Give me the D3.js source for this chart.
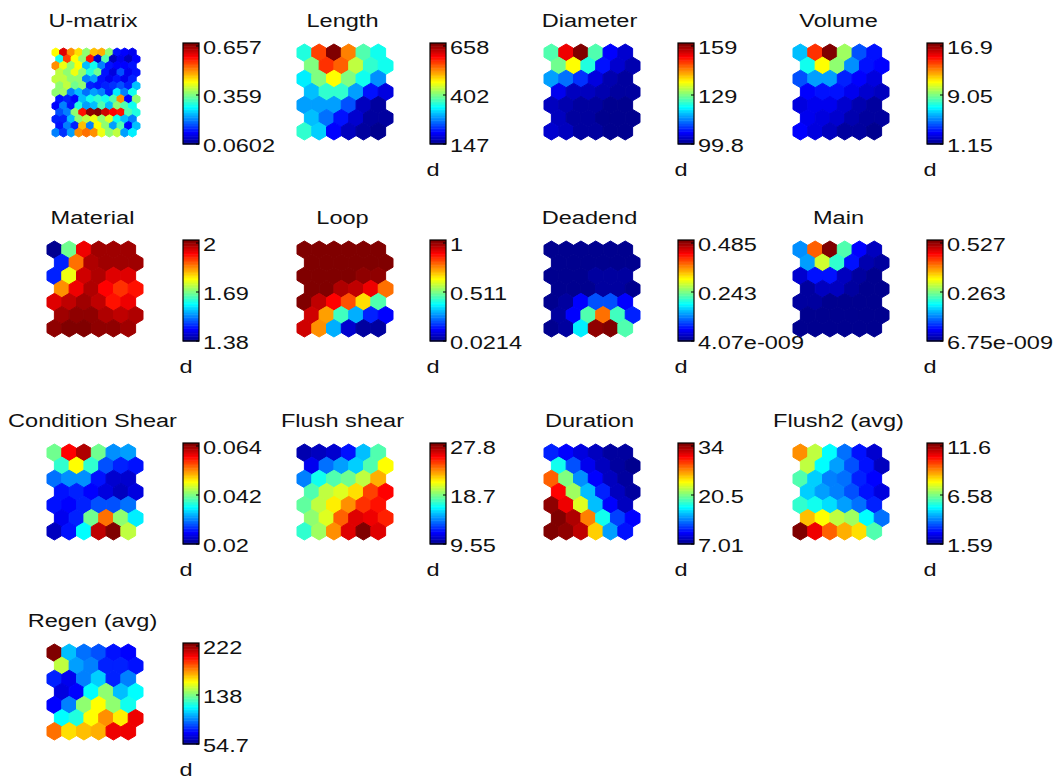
<!DOCTYPE html>
<html><head><meta charset="utf-8">
<script src="https://cdn.jsdelivr.net/npm/d3@7"></script>
<style>body{margin:0;background:#fff}text{font-family:"Liberation Sans",Arial,sans-serif;fill:#111}</style>
</head><body><svg id="c" width="1057" height="780"></svg>
<script>
// ---------- DATA ----------
const titles = ["U-matrix","Length","Diameter","Volume","Material","Loop","Deadend","Main","Condition Shear","Flush shear","Duration","Flush2 (avg)","Regen (avg)"];
const ranges = [[0.0602,0.657],[147,658],[99.8,159],[1.15,16.9],[1.38,2],[0.0214,1],[4.07e-9,0.485],[6.75e-9,0.527],[0.02,0.064],[9.55,27.8],[7.01,34],[1.59,11.6],[54.7,222]];
const tickLabels = [["0.0602","0.359","0.657"],["147","402","658"],["99.8","129","159"],["1.15","9.05","16.9"],["1.38","1.69","2"],["0.0214","0.511","1"],["4.07e-009","0.243","0.485"],["6.75e-009","0.263","0.527"],["0.02","0.042","0.064"],["9.55","18.7","27.8"],["7.01","20.5","34"],["1.59","6.58","11.6"],["54.7","138","222"]];
const unitLabel = "d";

const uMatrix = [
[0.430,0.597,0.490,0.448,0.359,0.466,0.478,0.359,0.138,0.132,0.120],
[0.287,0.538,0.430,0.359,0.568,0.102,0.329,0.090,0.120,0.090,0.132],
[0.490,0.418,0.359,0.430,0.239,0.287,0.209,0.138,0.132,0.132,0.138],
[0.389,0.359,0.418,0.359,0.299,0.347,0.138,0.108,0.180,0.120,0.138],
[0.389,0.394,0.359,0.359,0.209,0.221,0.138,0.120,0.138,0.120,0.150],
[0.359,0.389,0.341,0.359,0.150,0.138,0.150,0.162,0.180,0.150,0.239],
[0.359,0.371,0.209,0.239,0.192,0.227,0.209,0.150,0.269,0.209,0.287],
[0.144,0.150,0.132,0.239,0.287,0.311,0.287,0.329,0.490,0.132,0.359],
[0.132,0.209,0.144,0.299,0.221,0.239,0.329,0.239,0.359,0.329,0.287],
[0.180,0.209,0.359,0.568,0.639,0.657,0.609,0.579,0.568,0.329,0.299],
[0.150,0.150,0.239,0.359,0.389,0.418,0.359,0.406,0.287,0.239,0.209],
[0.138,0.209,0.150,0.466,0.209,0.430,0.359,0.227,0.329,0.132,0.239],
[0.209,0.162,0.227,0.490,0.508,0.490,0.418,0.359,0.389,0.227,0.269]];

const lengthV = [
[351,556,658,530,377,341],[402,566,540,428,362,341],[326,402,464,402,341,275],
[300,362,362,290,213,188],[285,290,290,249,173,162],[300,259,213,183,162,157],[362,311,208,173,157,147]];
const diameterV = [
[126.4,151.9,159,126.4,106.9,104.0],[127.6,136.5,123.5,107.5,104.0,102.2],[115.8,112.8,109.9,104.5,102.2,101.6],
[105.7,103.4,102.8,102.2,101.6,101.0],[103.4,102.2,101.0,101.0,100.4,100.4],[102.8,101.6,101.0,100.4,99.8,99.8],[104.0,102.8,101.6,101.0,100.4,99.8]];
const volumeV = [
[5.88,14.07,16.9,9.34,4.30,3.20],[7.14,10.92,9.03,5.09,3.20,3.04],[4.30,5.56,5.56,3.51,3.04,2.41],
[3.04,3.36,3.20,2.73,2.25,1.94],[2.41,2.73,2.73,2.25,1.78,1.62],[2.73,2.41,2.25,1.78,1.62,1.47],[3.04,2.41,1.94,1.62,1.47,1.31]];
const materialV = [
[1.38,1.68,1.93,1.98,1.98,1.98],[1.47,1.85,1.97,1.975,1.975,1.975],[1.47,1.75,1.95,1.97,1.94,1.94],
[1.83,1.93,1.97,1.92,1.89,1.91],[1.94,1.955,1.975,1.955,1.91,1.93],[1.98,1.99,1.99,1.97,1.955,1.97],[1.99,1.995,1.995,1.99,1.99,1.98]];
const loopV = [
[1,1,1,1,1,1],[1,1,1,1,1,1],[1,1,1,1,0.98,0.97],
[1,1,0.95,0.93,0.88,0.77],[1,0.93,0.87,0.80,0.65,0.46],[0.92,0.71,0.44,0.31,0.17,0.14],[0.92,0.73,0.30,0.09,0.05,0.04]];
const deadendV = [
[0,0,0,0,0,0],[0,0,0,0,0,0],[0,0,0,0.01,0.015,0.01],
[0,0,0,0.015,0.015,0],[0,0.01,0.058,0.097,0.097,0.058],[0.01,0.058,0.218,0.364,0.209,0.073],[0,0.015,0.17,0.47,0.485,0.218]];
const mainV = [
[0.132,0.406,0.527,0.237,0.063,0.026],[0.142,0.300,0.221,0.069,0.021,0.011],[0.037,0.074,0.074,0.032,0.011,0.005],
[0.016,0.032,0.032,0.016,0.005,0],[0.011,0.011,0.005,0,0,0],[0.005,0,0,0,0,0],[0,0,0,0,0,0]];
const condShearV = [
[0.0407,0.0583,0.0618,0.0407,0.0310,0.0319],[0.0385,0.0473,0.0385,0.0288,0.0266,0.0257],[0.0297,0.0314,0.0310,0.0257,0.0231,0.0231],
[0.0257,0.0262,0.0253,0.0235,0.0226,0.0235],[0.0257,0.0253,0.0266,0.0288,0.0288,0.0297],[0.0244,0.0262,0.0407,0.0530,0.0420,0.0354],[0.0226,0.0257,0.0363,0.0609,0.0640,0.0446]];
const flushShearV = [
[10.28,10.46,10.83,11.92,15.03,17.76],[11.38,13.57,14.48,15.39,17.76,20.87],[14.11,16.49,17.76,18.13,19.59,22.33],
[17.76,19.59,20.14,21.41,24.15,25.43],[17.95,19.59,21.05,22.69,24.52,25.06],[18.68,20.14,23.60,25.98,25.61,24.70],[17.22,19.22,22.69,25.98,27.80,25.98]];
const durationV = [
[11.06,10.25,9.17,8.36,7.82,7.82],[17.27,12.41,9.71,8.36,7.55,7.28],[27.79,20.50,14.03,10.25,8.36,7.55],
[30.49,21.04,15.10,11.06,8.63,7.82],[33.19,30.76,22.66,15.10,10.25,8.63],[33.73,32.65,27.25,17.27,11.87,10.25],[33.73,33.46,32.11,25.09,14.30,10.52]];
const flush2V = [
[8.8,7.2,5.29,3.79,2.89,2.29],[7.2,5.29,4.39,3.59,2.89,2.09],[6.09,4.79,4.09,3.89,3.09,2.79],
[4.79,4.29,4.09,3.59,2.89,2.39],[5.79,5.39,4.89,4.39,3.89,3.09],[8.4,7.8,7.2,6.8,5.29,3.79],[11.6,10.4,9.3,8.6,8.1,6.09]];
const regenV = [
[222,104.9,91.5,88.2,76.5,74.8],[146.7,101.5,96.5,79.8,79.8,76.5],[79.8,71.4,96.5,108.2,79.8,96.5],
[68.1,74.8,116.6,138.4,104.9,116.6],[74.8,96.5,138.4,158.4,138.4,118.3],[116.6,121.6,158.4,175.2,160.1,201.9],[180.2,163.4,168.5,171.8,201.9,201.9]];

const planes = [uMatrix,lengthV,diameterV,volumeV,materialV,loopV,deadendV,mainV,condShearV,flushShearV,durationV,flush2V,regenV];

// ---------- LAYOUT ----------
const rowY = [0,197,400,600];
const gridX = [47,297,544,793];
const cbX = [183,430,678,927];
const gridW = 96, gridTop = 44, gridBot = 140;
const cbW = 16, cbTop = 43, cbBot = 144;
const FS = 19, SX = 1.24;

// MATLAB jet(64)
function jet(n){
  const m = Math.ceil(n/4), u=[];
  for(let i=1;i<=m;i++)u.push(i/m);
  for(let i=0;i<m-1;i++)u.push(1);
  for(let i=m;i>=1;i--)u.push(i/m);
  const g0 = Math.ceil(m/2)-(n%4===1?1:0);
  const J = Array.from({length:n},()=>[0,0,0]);
  u.forEach((v,k)=>{const g=g0+k+1,r=g+m,b=g-m;
    if(r>=1&&r<=n)J[r-1][0]=v; if(g>=1&&g<=n)J[g-1][1]=v; if(b>=1&&b<=n)J[b-1][2]=v;});
  return J.map(c=>d3.rgb(Math.round(c[0]*255),Math.round(c[1]*255),Math.round(c[2]*255)).formatHex());
}
const jet64 = jet(64);

const svg = d3.select("#c");
const hexOff = [[0,-2/3],[0.5,-1/3],[0.5,1/3],[0,2/3],[-0.5,1/3],[-0.5,-1/3]];

function txt(g,x,y,s,anchor){
  g.append("g").attr("transform",`translate(${x},${y}) scale(${SX},1)`)
   .append("text").attr("font-size",FS).attr("text-anchor",anchor).text(s);
}

planes.forEach((data,i)=>{
  const pr = Math.floor(i/4), pc = i%4;
  const oy = rowY[pr];
  const g = svg.append("g");
  const rows = data.length, cols = data[0].length;
  let gx0 = gridX[pc], gx1 = gridX[pc]+gridW, gy0 = oy+gridTop, gy1 = oy+gridBot;
  if(i===0){gx0=52;gx1=140;gy0=oy+48;gy1=oy+137;}
  const xs = d3.scaleLinear().domain([-0.5,cols]).range([gx0,gx1]);
  const ys = d3.scaleLinear().domain([-2/3,rows-1+2/3]).range([gy0,gy1]);
  const [vmin,vmax] = ranges[i];
  const color = d3.scaleQuantize().domain([vmin,vmax]).range(jet64);
  const cells = [];
  data.forEach((row,r)=>row.forEach((v,c)=>cells.push({r,c,v})));
  g.selectAll("path.hex").data(cells).join("path").attr("class","hex")
   .attr("d",d=>{const cx=d.c+(d.r%2?0.5:0), cy=d.r;
     return "M"+hexOff.map(o=>[xs(cx+o[0]),ys(cy+o[1])].join(",")).join("L")+"Z";})
   .attr("fill",d=>color(d.v)).attr("stroke",d=>color(d.v)).attr("stroke-width",1)
   .attr("stroke-linejoin","round");

  // title
  txt(g,(gx0+gx1)/2-2.5 + (i===0? -0.5:0), oy+27, titles[i], "middle");

  // colorbar
  const cx0 = cbX[pc], ct = oy+cbTop, cb = oy+cbBot;
  const band = d3.scaleBand().domain(d3.range(64)).range([cb,ct]);
  g.selectAll("rect.cb").data(jet64).join("rect").attr("class","cb")
   .attr("x",cx0).attr("width",cbW).attr("y",(d,k)=>band(k)).attr("height",band.bandwidth()+0.5).attr("fill",d=>d);
  g.append("rect").attr("x",cx0).attr("y",ct).attr("width",cbW).attr("height",cb-ct)
   .attr("fill","none").attr("stroke","#000").attr("stroke-width",1.2);
  const tickVals = [vmin,(vmin+vmax)/2,vmax];
  const ty = d3.scaleLinear().domain([vmin,vmax]).range([cb+2,ct+5]);
  tickVals.forEach((tv,k)=>{
    g.append("line").attr("x1",cx0+cbW).attr("x2",cx0+cbW-3).attr("y1",ty(tv)-2).attr("y2",ty(tv)-2).attr("stroke","#000").attr("stroke-width",1);
    g.append("g").attr("transform",`translate(${cx0+cbW+4},${ty(tv)}) scale(${SX},1)`)
     .append("text").attr("font-size",FS).attr("dominant-baseline","central").text(tickLabels[i][k]);
  });
  if(i!==0) txt(g,cx0+cbW/2-5, cb+32, unitLabel, "middle");
});
</script></body></html>
